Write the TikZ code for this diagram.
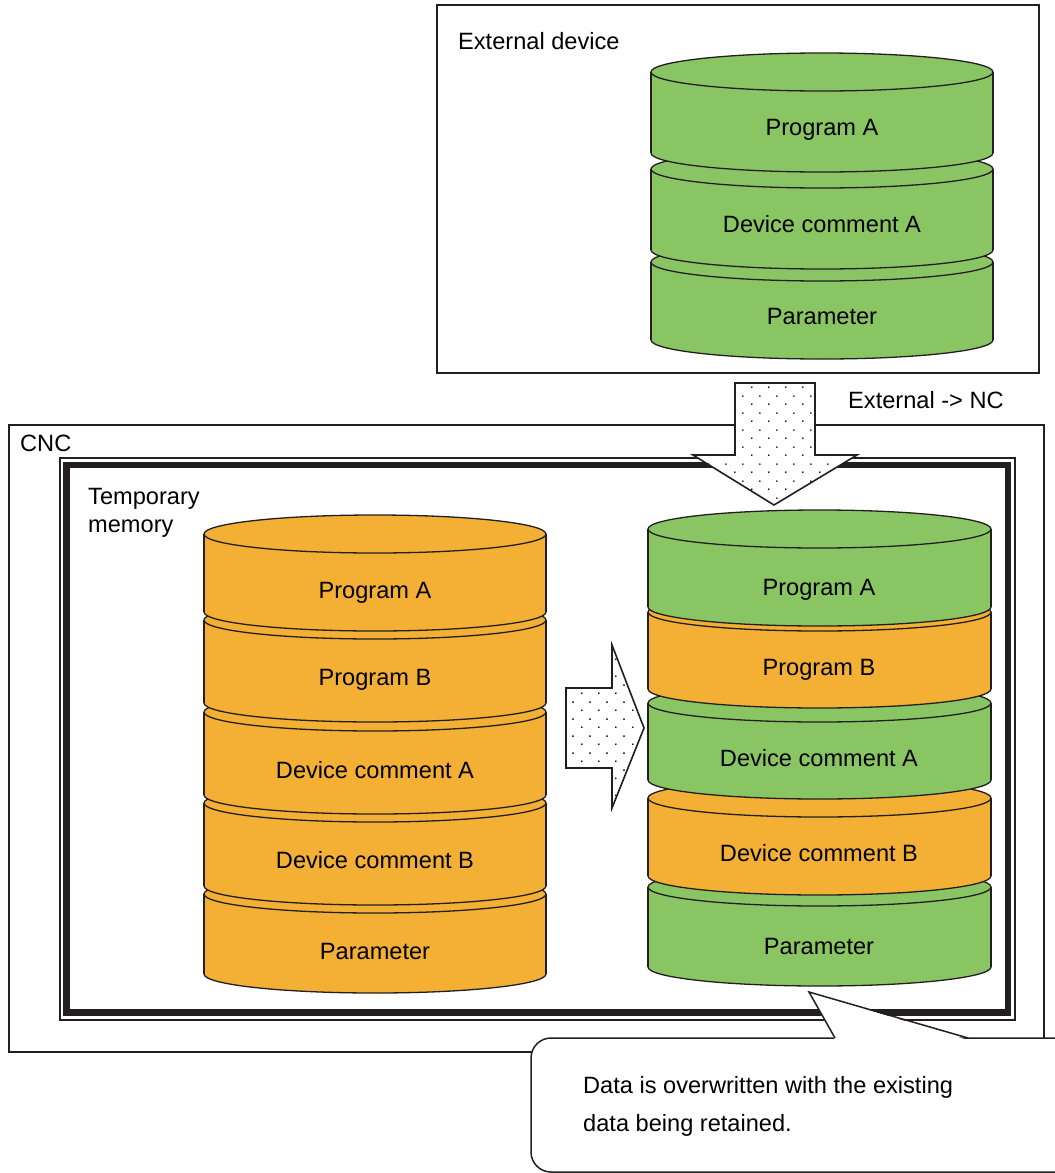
\documentclass[tikz,border=0pt]{standalone}
\usepackage{fontspec}
\setmainfont{Liberation Sans}
\usetikzlibrary{patterns.meta}
\definecolor{cylgreen}{RGB}{137,198,99}
\definecolor{cylorange}{RGB}{243,176,53}
\definecolor{lineblk}{RGB}{35,31,32}
\tikzdeclarepattern{name=sparsedots, type=uncolored,
  bounding box={(0pt,0pt) and (17pt,17pt)}, tile size={(17pt,17pt)},
  code={\fill (4pt,4pt) circle (1pt); \fill (12.5pt,12.5pt) circle (1pt);}}
\newcommand\cylseg[5]{%
  \pgfmathsetmacro\cylcx{(#2+#3)/2}%
  \pgfmathsetmacro\cylrx{(#3-#2)/2}%
  \filldraw[fill=#1, cylline] (\cylcx,#5) ellipse [x radius=\cylrx pt, y radius=19pt];
  \fill[#1] (#2,#4) rectangle (#3,#5);
  \draw[cylline] (#2,#4) -- (#2,#5) (#3,#4) -- (#3,#5);
  \filldraw[fill=#1, cylline] (\cylcx,#4) ellipse [x radius=\cylrx pt, y radius=19pt];
}
\begin{document}
\begin{tikzpicture}[x=1pt, y=-1pt,
  txt/.style={font=\fontsize{23.6}{28}\selectfont, inner sep=0pt, text=black},
  cylline/.style={draw=lineblk, line width=1.3pt},
  boxline/.style={draw=lineblk, line width=1.6pt},
  bigarrow/.style={draw=lineblk, line width=1.6pt, line join=miter}]
\useasboundingbox (0,0) rectangle (1055,1173);
\fill[white] (0,0) rectangle (1055,1173);

% External device box
\draw[boxline] (437,5) rectangle (1039,373);
\node[txt, anchor=base west] (extlabel) at (458,49) {External device};

% external stack (bottom first)
\cylseg{cylgreen}{651}{993}{262}{340}
\cylseg{cylgreen}{651}{993}{169}{250}
\cylseg{cylgreen}{651}{993}{72}{153}
\node[txt, anchor=base] (extpa) at (822,135) {Program A};
\node[txt, anchor=base] (extdca) at (822,232) {Device comment A};
\node[txt, anchor=base] (extpar) at (822,324) {Parameter};

% CNC box
\draw[boxline] (9,425) rectangle (1044,1052);
\node[txt, anchor=base west] (cnclabel) at (20,451) {CNC};

% Temporary memory frame
\draw[draw=lineblk, line width=1.3pt] (60,458) rectangle (1015,1020);
\draw[draw=lineblk, line width=6.5pt] (66.5,465) rectangle (1008,1012.5);
\node[txt, anchor=base west, align=left] (tmplabel) at (88,532) {Temporary\\memory};

% left stack (orange)
\cylseg{cylorange}{204}{546}{894}{974}
\cylseg{cylorange}{204}{546}{803}{886}
\cylseg{cylorange}{204}{546}{712}{795}
\cylseg{cylorange}{204}{546}{620}{703}
\cylseg{cylorange}{204}{546}{534}{612}
\node[txt, anchor=base] (lpa) at (375,598) {Program A};
\node[txt, anchor=base] (lpb) at (375,685) {Program B};
\node[txt, anchor=base] (ldca) at (375,778) {Device comment A};
\node[txt, anchor=base] (ldcb) at (375,868) {Device comment B};
\node[txt, anchor=base] (lpar) at (375,959) {Parameter};

% right stack (mixed)
\cylseg{cylgreen}{648}{991}{887}{967}
\cylseg{cylorange}{648}{991}{798}{876}
\cylseg{cylgreen}{648}{991}{703}{780}
\cylseg{cylorange}{648}{991}{612}{689}
\cylseg{cylgreen}{648}{991}{529}{607}
\node[txt, anchor=base] (rpa) at (819,595) {Program A};
\node[txt, anchor=base] (rpb) at (819,675) {Program B};
\node[txt, anchor=base] (rdca) at (819,766) {Device comment A};
\node[txt, anchor=base] (rdcb) at (819,861) {Device comment B};
\node[txt, anchor=base] (rpar) at (819,954) {Parameter};

% down arrow External -> NC
\path[fill=white] (735,383) -- (815,383) -- (815,455) -- (857,455) -- (774,505) -- (693,455) -- (735,455) -- cycle;
\path[pattern=sparsedots, pattern color=black] (735,383) -- (815,383) -- (815,455) -- (857,455) -- (774,505) -- (693,455) -- (735,455) -- cycle;
\draw[bigarrow] (735,383) -- (815,383) -- (815,455) -- (857,455) -- (774,505) -- (693,455) -- (735,455) -- cycle;
\node[txt, anchor=base west] (extnc) at (848,408) {External -> NC};

% right arrow
\path[fill=white] (566,688) -- (612,688) -- (612,645) -- (644,728) -- (612,808) -- (612,768) -- (566,768) -- cycle;
\path[pattern=sparsedots, pattern color=black] (566,688) -- (612,688) -- (612,645) -- (644,728) -- (612,808) -- (612,768) -- (566,768) -- cycle;
\draw[bigarrow] (566,688) -- (612,688) -- (612,645) -- (644,728) -- (612,808) -- (612,768) -- (566,768) -- cycle;

% callout
\coordinate (tip) at (809,992);
\filldraw[fill=white, draw=lineblk, line width=1.5pt, rounded corners=20pt] (531,1038) rectangle (1080,1172);
\fill[white] (835,1040) -- (tip) -- (968,1040) -- cycle;
\draw[draw=lineblk, line width=1.5pt, line join=miter] (835,1038) -- (tip) -- (968,1038);
\node[txt, anchor=base west, align=left, font=\fontsize{23.6}{38}\selectfont] (calltext) at (583,1131)
  {Data is overwritten with the existing\\data being retained.};
\end{tikzpicture}
\end{document}
